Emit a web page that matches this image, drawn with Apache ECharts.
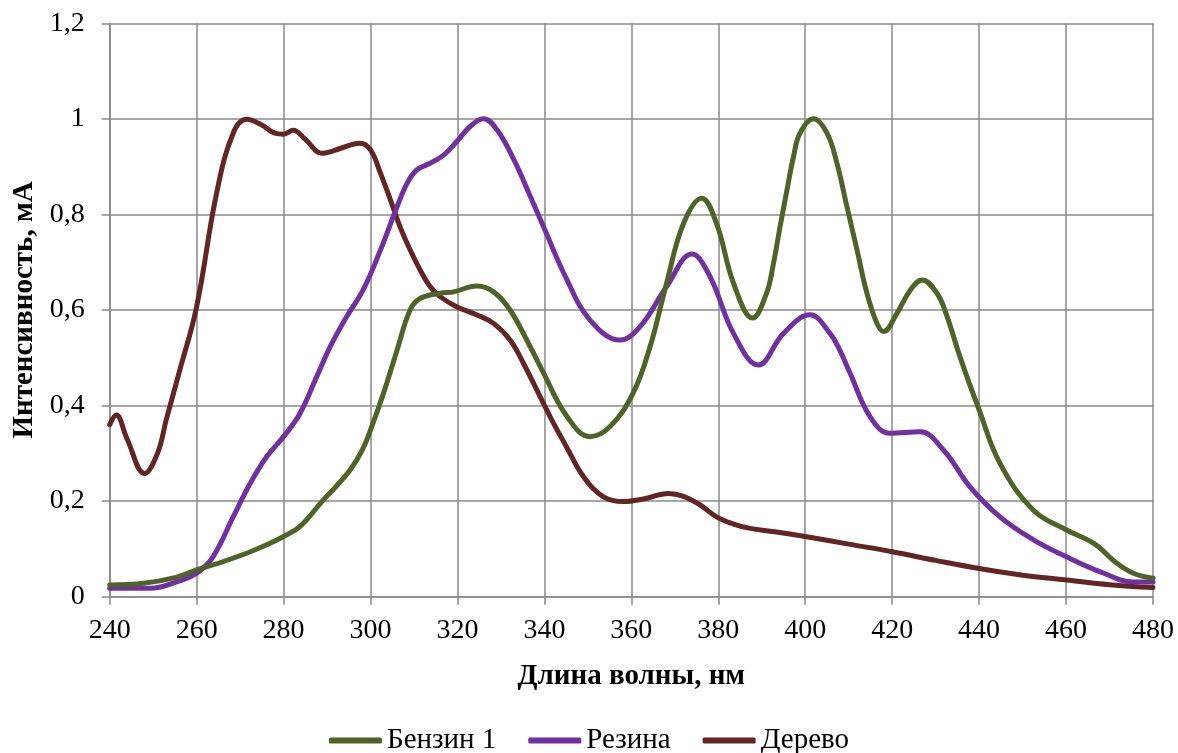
<!DOCTYPE html>
<html>
<head>
<meta charset="utf-8">
<script src="https://cdn.jsdelivr.net/npm/echarts@6/dist/echarts.min.js"></script>
<style>html,body{margin:0;padding:0;background:#fff;}#c{width:1178px;height:753px;}</style>
</head>
<body>
<div id="c"></div>
<script>
const seriesNames = ['Бензин 1', 'Резина', 'Дерево'];
const xTicks = [240, 260, 280, 300, 320, 340, 360, 380, 400, 420, 440, 460, 480];
const yTicks = [0, 0.2, 0.4, 0.6, 0.8, 1, 1.2];

const benzinX = [240, 247.7, 255, 260, 265, 271.5, 276, 280, 283.8, 289.1, 292, 295.3, 298, 300, 303, 306.1, 309.1, 311.4, 316, 319.1, 324.4, 328.3, 332.1, 336.8, 339.8, 345.2, 350.5, 355.1, 360.4, 364.3, 368.1, 372, 376.2, 379.6, 383.5, 387.9, 391.1, 392.7, 394.2, 395.8, 397.3, 398.8, 401.9, 405, 407.3, 409.6, 411.9, 414.2, 416.5, 418, 421.1, 424.2, 426.9, 430.3, 432.5, 435.6, 440, 444.8, 452.5, 460, 466.3, 471.7, 475.5, 480];
const benzinY = [0.0245, 0.028, 0.04, 0.056, 0.07, 0.091, 0.108, 0.126, 0.147, 0.202, 0.23, 0.265, 0.305, 0.349, 0.426, 0.516, 0.6, 0.624, 0.635, 0.638, 0.65, 0.638, 0.6, 0.522, 0.468, 0.377, 0.335, 0.356, 0.426, 0.523, 0.656, 0.781, 0.834, 0.781, 0.656, 0.583, 0.635, 0.698, 0.774, 0.851, 0.921, 0.97, 1.0, 0.97, 0.907, 0.816, 0.726, 0.635, 0.572, 0.555, 0.593, 0.642, 0.663, 0.635, 0.59, 0.502, 0.391, 0.279, 0.181, 0.14, 0.112, 0.07, 0.049, 0.0385];

const rezinaX = [240, 249.3, 255.4, 260, 263.8, 268.4, 272.3, 276.1, 280, 283.8, 287.6, 290.7, 294.5, 298.3, 302.3, 306.1, 308.4, 310.6, 313.7, 316.8, 319.8, 322.9, 326, 329.1, 333, 336.8, 339.8, 345.2, 350.5, 357.4, 362, 368.1, 373.9, 378.1, 383.5, 389.2, 395, 401.1, 405.7, 408, 410.3, 414.9, 419.5, 426.4, 431.8, 437.9, 444.8, 452.5, 460, 467.9, 475.5, 480];
const rezinaY = [0.0175, 0.0175, 0.031, 0.049, 0.084, 0.167, 0.237, 0.293, 0.335, 0.384, 0.46, 0.523, 0.586, 0.642, 0.726, 0.816, 0.865, 0.893, 0.907, 0.924, 0.952, 0.984, 1.0, 0.977, 0.914, 0.837, 0.774, 0.663, 0.579, 0.537, 0.565, 0.649, 0.717, 0.67, 0.551, 0.485, 0.551, 0.59, 0.551, 0.515, 0.468, 0.377, 0.342, 0.345, 0.307, 0.23, 0.167, 0.119, 0.084, 0.052, 0.031, 0.031];

const derevoX = [240, 241.5, 244, 248, 251, 253, 256, 260, 264.6, 268.4, 271.5, 275, 278, 280, 282.2, 285, 288.8, 290.7, 293, 297.6, 300, 302.3, 304.6, 306.8, 309.1, 311.4, 313.7, 316, 319.8, 324.4, 328.3, 332.1, 335.2, 341.3, 345, 349, 353.6, 358.2, 363, 368.5, 372, 375.8, 379.6, 383.5, 387.3, 393, 400, 410, 420, 430, 440, 450, 460, 470, 480];
const derevoY = [0.36, 0.38, 0.33, 0.258, 0.3, 0.37, 0.47, 0.607, 0.845, 0.97, 0.999, 0.987, 0.97, 0.968, 0.976, 0.957, 0.928, 0.931, 0.938, 0.949, 0.935, 0.886, 0.83, 0.774, 0.726, 0.684, 0.649, 0.628, 0.607, 0.59, 0.572, 0.537, 0.488, 0.377, 0.315, 0.251, 0.209, 0.199, 0.205, 0.216, 0.21, 0.192, 0.167, 0.152, 0.143, 0.136, 0.126, 0.11, 0.094, 0.076, 0.059, 0.045, 0.035, 0.025, 0.019];

const colors = ['#4F6228', '#7030A0', '#632523'];
const FONT = '"Liberation Serif", "Times New Roman", serif';

function pairs(xs, ys) { return xs.map((x, i) => [x, ys[i]]); }
const seriesData = [pairs(benzinX, benzinY), pairs(rezinaX, rezinaY), pairs(derevoX, derevoY)];

const chart = echarts.init(document.getElementById('c'), null, { renderer: 'canvas' });
chart.setOption({
  animation: false,
  backgroundColor: '#ffffff',
  grid: { left: 109.7, right: 25, top: 23.3, bottom: 156.3, containLabel: false },
  legend: {
    left: 'center',
    top: 726,
    padding: 0,
    itemWidth: 53,
    itemHeight: 6,
    itemGap: 32,
    icon: 'roundRect',
    data: seriesNames,
    textStyle: { fontFamily: FONT, fontSize: 29, color: '#000' }
  },
  xAxis: {
    type: 'value',
    min: xTicks[0],
    max: xTicks[xTicks.length - 1],
    interval: 20,
    name: 'Длина волны, нм',
    nameLocation: 'middle',
    nameGap: 65,
    nameTextStyle: { fontFamily: FONT, fontSize: 29, fontWeight: 'bold', color: '#000' },
    axisLine: { show: true, lineStyle: { color: '#8a8a8a', width: 1.5 } },
    axisTick: { show: true, length: 8, lineStyle: { color: '#8a8a8a', width: 1.5 } },
    axisLabel: { fontFamily: FONT, fontSize: 28, color: '#000', margin: 20 },
    splitLine: { show: true, lineStyle: { color: '#8a8a8a', width: 1.5 } }
  },
  yAxis: {
    type: 'value',
    min: yTicks[0],
    max: yTicks[yTicks.length - 1],
    interval: 0.2,
    name: 'Интенсивность, мА',
    nameLocation: 'middle',
    nameRotate: 90,
    nameGap: 68,
    nameTextStyle: { fontFamily: FONT, fontSize: 29, fontWeight: 'bold', color: '#000' },
    axisLine: { show: true, lineStyle: { color: '#8a8a8a', width: 1.5 } },
    axisTick: { show: true, length: 8, lineStyle: { color: '#8a8a8a', width: 1.5 } },
    axisLabel: {
      fontFamily: FONT, fontSize: 28, color: '#000', margin: 25,
      formatter: v => String(Math.round(v * 10) / 10).replace('.', ',')
    },
    splitLine: { show: true, lineStyle: { color: '#8a8a8a', width: 1.5 } }
  },
  series: seriesNames.map((n, i) => ({
    name: n,
    type: 'line',
    data: seriesData[i],
    smooth: 0.4,
    showSymbol: false,
    symbol: 'none',
    lineStyle: { color: colors[i], width: 5, cap: 'round', join: 'round' },
    itemStyle: { color: colors[i] },
    z: 3 - i
  }))
});
</script>
</body>
</html>
